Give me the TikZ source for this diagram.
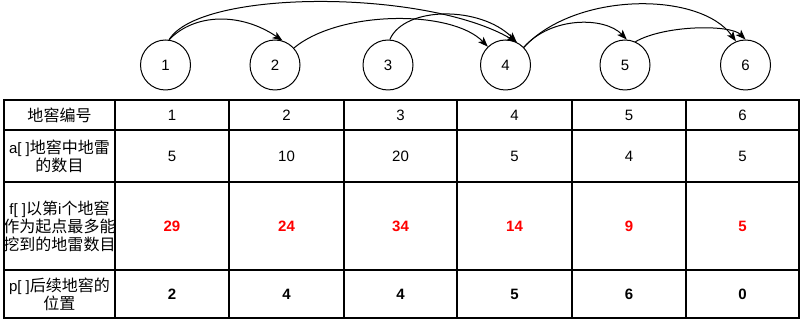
\documentclass[tikz,border=0pt]{standalone}
\usepackage{fontspec}
\setmainfont{Liberation Sans}
\newfontfamily\cjk[Scale=1.0667]{Noto Sans CJK SC}
\usetikzlibrary{arrows.meta}
\begin{document}
\begin{tikzpicture}[x=1pt,y=-1pt,
  pit/.style={circle,draw,line width=1pt,minimum size=50pt,inner sep=0pt,font=\fontsize{15}{18}\selectfont},
  link/.style={line width=1pt,-{Stealth[length=10pt,width=7.5pt,inset=2.5pt]}},
  tabline/.style={line width=1.1pt},
  tcell/.style={align=center,inner sep=0pt,font=\fontsize{15}{18}\selectfont},
  tbold/.style={tcell,font=\fontsize{15}{18}\selectfont\bfseries},
  tred/.style={tbold,text=red}]
\useasboundingbox (0,0) rectangle (801,320);
% pits
\node[pit] (c1) at (165.5,65) {1};
\node[pit] (c2) at (275,65) {2};
\node[pit] (c3) at (388,65) {3};
\node[pit] (c4) at (505.5,65) {4};
\node[pit] (c5) at (625,65) {5};
\node[pit] (c6) at (745.5,65) {6};
% links
\draw[link] (c1.82) .. controls +(26,-27) and +(-41,-28) .. (c2.73);
\draw[link] (c1.82) .. controls +(31,-51) and +(-91,-53) .. (c4.64);
\draw[link] (c2.42) .. controls +(46,-38) and +(-36,-37) .. (c4.134);
\draw[link] (c3.86) .. controls +(15,-34) and +(-36,-36) .. (c4.64);
\draw[link] (c4.44) .. controls +(27,-31) and +(-22,-23) .. (c5.86);
\draw[link] (c4.44) .. controls +(52,-56) and +(-36,-50) .. (c6.112);
\draw[link] (c5.66) .. controls +(30,-17) and +(-15,-15) .. (c6.90);
% table grid
\draw[tabline] (4,100) rectangle (799,318);
\foreach \y in {130,182,270} \draw[tabline] (4,\y) -- (799,\y);
\foreach \x in {115,229,344,457,572,686} \draw[tabline] (\x,100) -- (\x,318);
% row labels
\node[tcell] (l1) at (59.5,115) {{\cjk 地窖编号}};
\node[tcell] (l2) at (59.5,156) {a[ ]{\cjk 地窖中地雷}\\{\cjk 的数目}};
\node[tcell] (l3) at (59.5,226) {f[ ]{\cjk 以第}i{\cjk 个地窖}\\{\cjk 作为起点最多能}\\{\cjk 挖到的地雷数目}};
\node[tcell] (l4) at (59.5,294) {p[ ]{\cjk 后续地窖的}\\{\cjk 位置}};
% values
\foreach \x/\a/\b/\c/\d [count=\i] in {172/1/5/29/2, 286.5/2/10/24/4, 400.5/3/20/34/4, 514.5/4/5/14/5, 629/5/4/9/6, 742.5/6/5/5/0}{
  \node[tcell] (n\i) at (\x,115) {\a};
  \node[tcell] (a\i) at (\x,156) {\b};
  \node[tred] (f\i) at (\x,226) {\c};
  \node[tbold] (p\i) at (\x,294) {\d};
}
\end{tikzpicture}
\end{document}
